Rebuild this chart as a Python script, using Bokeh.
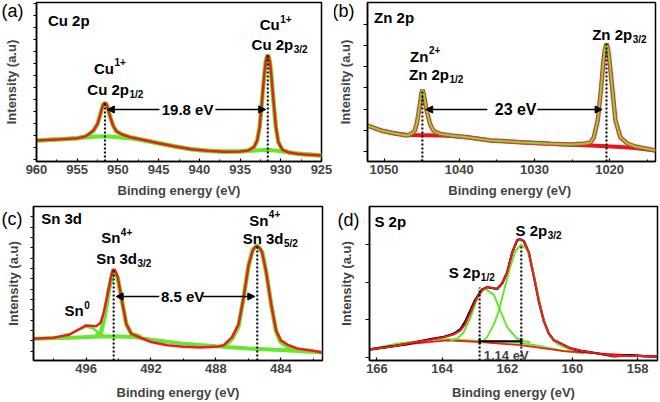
from bokeh.plotting import figure
from bokeh.layouts import column, row
from bokeh.models import Range1d, FixedTicker, SingleIntervalTicker, Arrow, NormalHead, TeeHead, Label
from bokeh.core.properties import value
from bokeh.embed import file_html
from bokeh.resources import INLINE

FONT = "Liberation Sans"
RED = "#ee1c1c"
GREEN = "#66e62e"

# ---------------- (a) Cu 2p ----------------
cu_be = [960, 957, 955, 954, 953.5, 953, 952.5, 952.2, 951.9, 951.75, 951.6, 951.45, 951.3, 951.0,
         950.6, 950.2, 949.5, 948.5, 947, 945, 943, 941, 939, 937, 935, 934, 933.3, 932.9, 932.6,
         932.3, 932.0, 931.85, 931.7, 931.6, 931.5, 931.35, 931.2, 930.9, 930.6, 930.3, 929.8, 929,
         928, 927, 925]
cu_fit = [20, 21.3, 22.3, 24, 26.7, 30, 36.7, 45, 54, 56.6, 57.3, 56.6, 54, 45,
          35, 29.3, 26, 23.3, 20.7, 17.3, 14, 11.3, 9.7, 8.7, 9, 10, 13.3, 20, 33.3,
          60, 88.3, 99, 104, 105, 104, 99, 88.3, 60, 33.3, 18.3, 10.7, 8,
          6.7, 6, 5]
cu_bg_be = [960, 957, 955, 953, 951.6, 950, 948, 945, 942, 940, 937, 935, 933, 931.6, 930, 928, 925]
cu_bg = [20, 21.3, 22.3, 23.7, 24.3, 23.3, 21.7, 17.3, 12.7, 10.3, 9, 9, 10, 10.7, 9.3, 7, 5]
cu_peaks = [951.6, 931.6]
cu_tops = [57.3, 105]

# ---------------- (b) Zn 2p ----------------
zn_be = [1052.2, 1050.43, 1048.71, 1047.78, 1046.85, 1046.22, 1045.92, 1045.65, 1045.35, 1045.12,
         1045.0, 1044.9, 1044.78, 1044.67, 1044.33, 1043.89, 1043.53, 1043.13, 1042.47, 1041.14,
         1038.92, 1035.83, 1031.84, 1027.86, 1025.2, 1023.21, 1022.55, 1022.11, 1021.58, 1021.12,
         1020.82, 1020.62, 1020.42, 1020.22, 1020.02, 1019.66, 1019.22, 1018.56, 1017.63, 1016.57,
         1015.24, 1013.91]
zn_fit = [35, 30, 27.3, 26, 25, 27.5, 30, 36.7, 50, 62,
          68, 70.7, 68.5, 64, 50, 36.7, 31, 28.3, 26.5, 25,
          23.3, 20, 18.3, 16.7, 16, 17, 18, 23, 40, 73,
          100, 111.5, 117, 111.5, 100, 73, 40, 23, 17, 14,
          12, 10]
zn_bg_be = [1052.2, 1050.4, 1048.7, 1046.9, 1044.9, 1042.5, 1041.1, 1038.9, 1035.8, 1031.8,
            1027.9, 1025.2, 1022.5, 1020.4, 1018.6, 1016.6, 1013.9]
zn_bg = [35, 30, 27.3, 25.5, 25.3, 25, 24.5, 23.3, 20, 18.3, 16.7, 15.7, 15, 14.3, 13.5, 12.5, 10]
zn_peaks = [1044.9, 1020.42]
zn_tops = [70.7, 117]

# ---------------- (c) Sn 3d ----------------
sn_be = [499.24, 498.01, 497.0, 496.51, 496.0, 495.69, 495.38, 495.1, 494.89, 494.6, 494.45,
         494.33, 494.22, 494.05, 493.82, 493.52, 493.21, 492.49, 492.0, 490.99, 490.01, 489.0,
         488.0, 487.51, 487.0, 486.6, 486.3, 485.99, 485.74, 485.6, 485.46, 485.3, 485.15, 484.9,
         484.59, 484.29, 484.0, 483.51, 482.99, 481.99, 481.43]
sn_fit = [22.3, 23.3, 26.7, 31.3, 36, 35.7, 35, 39, 50.7, 74, 87.5,
          93.5, 92.5, 85.7, 64, 37.3, 27.3, 22.3, 19, 15.7, 14, 13.3,
          14, 15.7, 24, 37.3, 64, 97.3, 112.3, 116.3, 117.3, 115.5, 110.7, 90.7,
          57.3, 30.7, 20.7, 15.7, 12.3, 10, 8.3]
sn_bg_be = [499.24, 497.0, 495.08, 494.05, 493.02, 492.0, 490.01, 488.0, 486.01, 484.0, 481.43]
sn_bg = [22.3, 23.3, 24.7, 24.7, 24, 21.3, 17.3, 14.7, 12.3, 10.7, 8.3]
sn0_be = [497.74, 497.0, 496.51, 496.0, 495.59, 495.28, 494.87]
sn0 = [23.3, 27.3, 31.3, 34.7, 33.3, 29, 24.7]
sn32_be = [495.38, 495.08, 494.83, 494.6, 494.3, 494.05, 493.82, 493.52, 493.21, 492.61]
sn32 = [24.7, 29, 47.3, 72.3, 93.3, 84.7, 64, 37.3, 27.3, 24]
sn52_be = [487.51, 487.0, 486.6, 486.3, 485.99, 485.74, 485.46, 485.15, 484.9, 484.59, 484.29,
           484.0, 483.51, 482.99]
sn52 = [14.7, 22.3, 35.7, 64, 97.3, 113.3, 118.3, 111.3, 90.7, 57.3, 30, 19, 13.3, 11.3]
sn_peaks = [494.3, 485.45]
sn_tops = [94, 117.3]

# ---------------- (d) S 2p ----------------
s_be = [166.23, 165.59, 164.98, 164.36, 163.95, 163.65, 163.44, 163.29, 163.13, 162.98,
        162.88, 162.77, 162.62, 162.41, 162.31, 162.16, 162.0, 161.85, 161.7, 161.62,
        161.49, 161.34, 161.19, 161.03, 160.88, 160.72, 160.57, 160.36, 160.06, 159.75,
        159.24, 158.72, 158.21, 157.8, 157.39]
s_fit = [11.3, 14, 18, 21.3, 24, 26.7, 30.7, 37.3, 49, 60.7,
         66.7, 72.3, 75.3, 74, 73.5, 79, 90.7, 110.7, 123.3, 124.7,
         122.3, 110.7, 87.3, 60.7, 40.7, 27.3, 20.7, 17.3, 12.3, 10,
         7.3, 4.7, 5, 4.7, 4]
s_raw = [11.3, 14.3, 17.5, 21.8, 24.3, 27.3, 32, 40, 51.5, 62.5,
         67.5, 72.8, 75.3, 74, 73.5, 79, 90.7, 110.7, 123.3, 124.7,
         122.3, 110.7, 87.3, 60.7, 40.7, 27.3, 20.7, 17.3, 12.3, 10,
         7.3, 4.3, 5.5, 4.4, 4]
s32_be = [162.82, 162.62, 162.41, 162.26, 162.11, 161.9, 161.75, 161.57, 161.39, 161.24, 161.08,
          160.88, 160.67, 160.47, 160.06]
s32 = [17.3, 24, 37.3, 50.7, 70.7, 97.3, 112.3, 119, 114, 97.3, 70.7, 40.7, 24, 17.3, 10.7]
s12_be = [163.75, 163.54, 163.34, 163.13, 162.93, 162.7, 162.41, 162.21, 162.0, 161.7, 161.49, 161.29]
s12 = [20.7, 22.3, 29, 44, 64, 74, 67.3, 50.7, 34, 22.3, 20, 18.7]
s_bg_be = [166.23, 165.39, 164.36, 163.85, 162.82, 161.59, 160.88, 160.26, 159.65]
s_bg = [11.3, 17.3, 21.3, 21.7, 20, 18.3, 14, 9.7, 7.3]
s_rbg_be = [166.23, 164.88, 163.85, 162.82, 161.59, 160.26, 159.24, 157.39]
s_rbg = [11.3, 17.3, 20.7, 19, 15.7, 9.7, 7.3, 4]
s_peaks = [162.85, 161.57]
s_tops = [75, 119]

X_TITLE = "Binding energy (eV)"
Y_TITLE = "Intensity (a.u)"

# Arial-bold advance widths (per 1000 em) for label composition
ADV = {' ': 278, 'C': 722, 'u': 611, '2': 556, 'p': 611, 'Z': 611, 'n': 611, 'S': 667, '3': 556, 'd': 611}
LBL = 15


def tw(s, size):
    return sum(ADV[c] for c in s) * size / 1000.0


def make_fig(width, height, xr, yr, bl, br, bt, bb, xint, xminor, yticks, tick_len, xtitle,
             lstand, tstand, tag, tag_at, tag_gap, ystand):
    p = figure(width=width, height=height, x_range=Range1d(*xr), y_range=Range1d(*yr),
               output_backend="svg", toolbar_location=None,
               min_border_left=bl, min_border_right=br, min_border_top=bt, min_border_bottom=bb)
    p.xgrid.visible = False
    p.ygrid.visible = False
    p.outline_line_color = "black"
    p.outline_line_width = 1.5
    p.background_fill_color = "white"
    p.border_fill_color = "white"
    xa = p.xaxis[0]
    xa.ticker = SingleIntervalTicker(interval=xint, num_minor_ticks=xminor)
    xa.axis_label = xtitle
    xa.axis_label_text_font = FONT
    xa.axis_label_text_font_style = "bold"
    xa.axis_label_text_font_size = "13px"
    xa.axis_label_standoff = tstand
    xa.major_label_text_font = FONT
    xa.major_label_text_font_style = "bold"
    xa.major_label_text_font_size = "13px"
    xa.major_label_standoff = lstand
    xa.major_tick_in = 3
    xa.major_tick_out = 0
    xa.minor_tick_in = 2
    xa.minor_tick_out = 0
    xa.axis_line_width = 1.5
    xa.major_tick_line_width = 1.2
    # y axis: the visible tick marks are drawn as minor ticks; the single
    # (tick-less) major position carries the panel tag "(a)" etc.
    ya = p.yaxis[0]
    ya.ticker = FixedTicker(ticks=[tag_at], minor_ticks=yticks)
    ya.major_label_overrides = {tag_at: tag}
    ya.major_label_text_font = FONT
    ya.major_label_text_font_size = "18px"
    ya.major_label_text_font_style = "normal"
    ya.major_label_text_color = "black"
    ya.major_label_standoff = tag_gap
    ya.major_tick_in = 0
    ya.major_tick_out = 0
    ya.minor_tick_in = 0
    ya.minor_tick_out = tick_len
    ya.minor_tick_line_width = 1.2
    ya.axis_label = Y_TITLE
    ya.axis_label_text_font = FONT
    ya.axis_label_text_font_style = "bold"
    ya.axis_label_text_font_size = "13px"
    ya.axis_label_standoff = ystand
    ya.axis_line_width = 1.5
    return p


def rich(p, x, y, base, sup=None, sub=None):
    kw = dict(text_font=value(FONT), text_font_style="bold", text_color="black",
              text_align="left", text_baseline="middle")
    p.text(x=[x], y=[y], text=[base], text_font_size=f"{LBL}px", **kw)
    w = tw(base, LBL)
    if sup:
        p.text(x=[x], y=[y], text=[sup], x_offset=w + 0.5, y_offset=-6,
               text_font_size="10px", **kw)
    if sub:
        p.text(x=[x], y=[y], text=[sub], x_offset=w + 0.5, y_offset=5,
               text_font_size="10px", **kw)


def center_text(p, x, y, t, size="15px"):
    p.text(x=[x], y=[y], text=[t], text_font=value(FONT), text_font_style="bold",
           text_font_size=size, text_align="center", text_baseline="middle", text_color="black")


def double_arrow(p, y, tip_l, gap_l, gap_r, tip_r):
    for a, b in ((gap_l, tip_l), (gap_r, tip_r)):
        p.add_layout(Arrow(x_start=a, y_start=y, x_end=b, y_end=y, line_width=1.5, line_color="black",
                           end=NormalHead(size=7, line_color="black", fill_color="black", line_width=1)))


def dotted(p, xs, tops, bottom):
    p.segment(x0=xs, y0=[bottom] * len(xs), x1=xs, y1=tops, line_color="black", line_width=2,
              line_dash="2 2")


# ---- (a)
pa = make_fig(334, 202, (960, 925), (-1, 158), 32, 13, 2, 41, 5, 2,
              [1, 13, 25, 37, 49, 61, 73, 85, 97, 109, 121, 133, 145, 157], 3, X_TITLE, 3, 6,
              "(a)", 150, 10, -20)
pa.line(cu_bg_be, cu_bg, line_color=GREEN, line_width=4)
pa.line(cu_be, cu_fit, line_color=GREEN, line_width=4.5)
pa.line(cu_be, cu_fit, line_color=RED, line_width=2.5)
dotted(pa, cu_peaks, cu_tops, -1)
double_arrow(pa, 51, 951.3, 944.9, 938.03, 931.85)
center_text(pa, 941.45, 51, "19.8 eV")
rich(pa, 958.6, 140, "Cu 2p")
rich(pa, 952.95, 92.5, "Cu", sup="1+")
rich(pa, 953.76, 71, "Cu 2p", sub="1/2")
rich(pa, 932.59, 136, "Cu", sup="1+")
rich(pa, 933.59, 116, "Cu 2p", sub="3/2")

# ---- (b)
pb = make_fig(326, 202, (1052.2, 1013.9), (-1, 158), 33, 5, 2, 41, 10, 2,
              [9, 30.2, 51.4, 72.6, 93.8, 115, 136.2], 4, "Binding  energy (eV)", 3, 6,
              "(b)", 150, 9, -23)
pb.line(zn_bg_be, zn_bg, line_color="#e8141c", line_width=4)
pb.line(zn_be, zn_fit, line_color="#f0303a", line_width=4.5)
pb.line(zn_be, zn_fit, line_color=GREEN, line_width=2)
dotted(pb, zn_peaks, zn_tops, -1)
double_arrow(pb, 51, 1044.46, 1036.26, 1029.62, 1021.0)
center_text(pb, 1032.5, 51, "23 eV", size="16px")
rich(pb, 1051.32, 143.3, "Zn 2p")
rich(pb, 1046.54, 104.2, "Zn", sup="2+")
rich(pb, 1046.68, 86, "Zn 2p", sub="1/2")
rich(pb, 1022.32, 126, "Zn 2p", sub="3/2")

# ---- (c)
pc = make_fig(334, 200, (499.24, 481.43), (0, 158), 33, 12, 4, 38, 4, 2,
              [9.7, 20.3, 30.9, 41.5, 52.1, 62.7, 73.3, 83.9, 94.5, 105.1, 115.7, 126.3, 136.9,
               147.5, 158.1], 3, X_TITLE, 3, 9,
              "(c)", 145.5, 8, -22)
pc.line(sn_bg_be, sn_bg, line_color=GREEN, line_width=4)
pc.line(sn0_be, sn0, line_color=GREEN, line_width=2.5)
pc.line(sn32_be, sn32, line_color=GREEN, line_width=4.5)
pc.line(sn52_be, sn52, line_color=GREEN, line_width=4.5)
pc.line(sn_be, sn_fit, line_color=RED, line_width=2.5)
dotted(pc, sn_peaks, sn_tops, 0)
double_arrow(pc, 65.7, 494.15, 491.49, 488.82, 485.6)
center_text(pc, 490.05, 65.7, "8.5 eV")
rich(pc, 498.77, 145.7, "Sn 3d")
rich(pc, 495.07, 125.7, "Sn", sup="4+")
rich(pc, 495.38, 105, "Sn 3d", sub="3/2")
rich(pc, 497.33, 51, "Sn", sup="0")
rich(pc, 485.95, 144, "Sn", sup="4+")
rich(pc, 486.35, 125, "Sn 3d", sub="5/2")

# ---- (d)
pd_ = make_fig(326, 200, (166.23, 157.39), (0, 158), 35, 3, 4, 38, 2, 0,
               [3, 41.7, 80.4, 119.1], 4, X_TITLE, 3, 9,
               "(d)", 144, 6, -19)
pd_.line(s_bg_be, s_bg, line_color=GREEN, line_width=2)
pd_.line(s_rbg_be, s_rbg, line_color=RED, line_width=1.8)
pd_.line(s_be, s_raw, line_color="black", line_width=2.4)
pd_.line(s12_be, s12, line_color=GREEN, line_width=2)
pd_.line(s32_be, s32, line_color=GREEN, line_width=2)
pd_.line(s_be, s_fit, line_color=RED, line_width=2)
dotted(pd_, s_peaks, s_tops, 0)
pd_.add_layout(Arrow(x_start=s_peaks[0], y_start=19.7, x_end=s_peaks[1], y_end=19.7, line_width=2,
                     line_color="black", start=TeeHead(size=6, line_width=2),
                     end=TeeHead(size=6, line_width=2)))
pd_.add_layout(Label(x=161.98, y=5.5, text="1.14  eV", text_font=FONT, text_font_style="bold",
                     text_font_size="13px", text_align="center", text_baseline="middle"))
rich(pd_, 166.08, 142.3, "S 2p")
rich(pd_, 163.8, 90, "S 2p", sub="1/2")
rich(pd_, 161.75, 133.3, "S 2p", sub="3/2")

layout = column(row(pa, pb), row(pc, pd_))
open("out.html", "w").write(file_html(layout, INLINE))
